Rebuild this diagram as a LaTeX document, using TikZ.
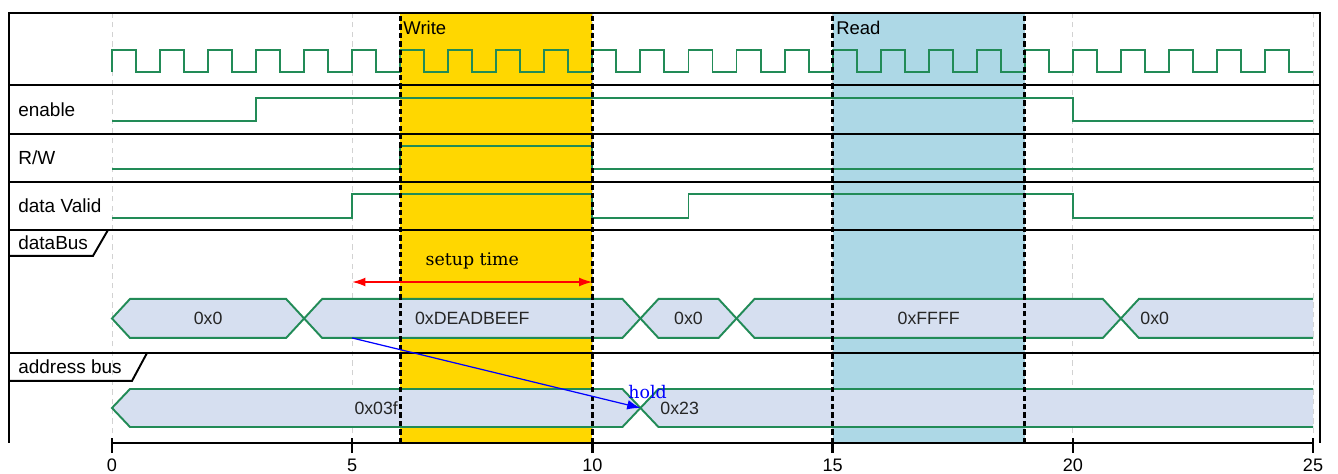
\documentclass[tikz,border=0pt]{standalone}
\usepackage{fontspec}
\setmainfont{Liberation Sans}
\newfontfamily\notefont{DejaVu Serif}
\usetikzlibrary{arrows.meta}
\definecolor{sigGreen}{RGB}{34,139,87}
\definecolor{busFill}{RGB}{214,223,240}
\definecolor{writeGold}{RGB}{255,215,0}
\definecolor{readBlue}{RGB}{173,216,230}

\begin{document}
\begin{tikzpicture}[scale=0.9608,
  sig/.style={draw=sigGreen, line width=1.1pt},
  bus/.style={sig, fill=busFill},
  rowline/.style={line width=1.1pt},
  gridline/.style={gray!35, line width=0.5pt, dash pattern=on 3pt off 2.5pt},
  bound/.style={line width=1.6pt, dash pattern=on 3pt off 1.8pt},
  signame/.style={anchor=west, inner sep=0pt, font=\fontsize{10.8}{12}\selectfont},
  busval/.style={inner sep=0pt, font=\fontsize{10.1}{12}\selectfont, text=black!85},
  note/.style={inner sep=0pt, font=\notefont\fontsize{9.9}{12}\selectfont}]
  \useasboundingbox (-2.331,-0.645) rectangle (25.52,9.221);
  % highlighted intervals
  \fill[writeGold] (6,0) rectangle (10,8.951); \fill[readBlue] (15,0) rectangle (19,8.951);
  \foreach \t in {0,5,...,25} \draw[gridline] (\t,0) -- (\t,8.951);
  % frame and row separators
  \draw[rowline] (-2.144,0) -- (-2.144,8.951) -- (25.146,8.951) -- (25.146,0);
  \foreach \y in {7.452,6.432,5.433,4.434,1.873} \draw[rowline] (-2.144,\y) -- (25.146,\y);
  \draw[rowline] (-2.144,3.893) -- (-0.396,3.893) -- (-0.083,4.434); \draw[rowline] (-2.144,1.291) -- (0.416,1.291) -- (0.729,1.873);
  % signal names
  \node[signame] (nEnable) at (-1.957,6.942) {enable}; \node[signame] (nRW) at (-1.957,5.943) {R/W};
  \node[signame] (nValid) at (-1.957,4.934) {data Valid}; \node[signame] (nData) at (-1.957,4.163) {dataBus};
  \node[signame] (nAddr) at (-1.957,1.582) {address bus};
  % clock
  \draw[sig] (0,7.723) \foreach \t in {0,...,24} { -- (\t,7.723) -- (\t,8.181) -- (\t+0.5,8.181) -- (\t+0.5,7.723) } -- (25,7.723);
  % binary signals
  \draw[sig] (0,6.703) -- (3,6.703) -- (3,7.181) -- (20,7.181) -- (20,6.703) -- (25,6.703);
  \draw[sig] (0,5.704) -- (6,5.704) -- (6,6.182) -- (10,6.182) -- (10,5.704) -- (25,5.704);
  \draw[sig] (0,4.684) -- (5,4.684) -- (5,5.183) -- (10,5.183) -- (10,4.684) -- (12,4.684) -- (12,5.183) -- (20,5.183) -- (20,4.684) -- (25,4.684);
  % data bus
  \foreach \a/\b/\v in {0/4/0x0, 4/11/0xDEADBEEF, 11/13/0x0, 13/21/0xFFFF} {
    \draw[bus] (\a,2.592) -- (\a+0.375,2.998) -- (\b-0.375,2.998) -- (\b,2.592) -- (\b-0.375,2.186) -- (\a+0.375,2.186) -- cycle;
    \node[busval] (d\a) at ({(\a+\b)/2},2.592) {\v};
  }
  \fill[busFill] (21,2.592) -- (21.375,2.998) -- (25,2.998) -- (25,2.186) -- (21.375,2.186) -- cycle;
  \draw[sig] (25,2.998) -- (21.375,2.998) -- (21,2.592) -- (21.375,2.186) -- (25,2.186);
  \node[busval, anchor=west] (d21) at (21.4,2.592) {0x0};
  % address bus
  \draw[bus] (0,0.729) -- (0.375,1.124) -- (10.625,1.124) -- (11,0.729) -- (10.625,0.333) -- (0.375,0.333) -- cycle;
  \fill[busFill] (11,0.729) -- (11.375,1.124) -- (25,1.124) -- (25,0.333) -- (11.375,0.333) -- cycle;
  \draw[sig] (25,1.124) -- (11.375,1.124) -- (11,0.729) -- (11.375,0.333) -- (25,0.333);
  \node[busval] (a0) at (5.5,0.729) {0x03f}; \node[busval, anchor=west] (a11) at (11.41,0.729) {0x23};
  % interval borders and labels
  \foreach \t in {6,10,15,19} \draw[bound] (\t,0) -- (\t,8.951);
  \node[signame, font=\fontsize{10.5}{12}\selectfont] (wr) at (6.06,8.639) {Write}; \node[signame, font=\fontsize{10.5}{12}\selectfont] (rd) at (15.07,8.639) {Read};
  % time axis
  \draw[line width=1.6pt] (0,0) -- (25,0);
  \foreach \t in {0,5,...,25} \draw[line width=1.3pt] (\t,0.1) -- (\t,-0.2) node[below, inner sep=3pt, font=\fontsize{10.3}{12}\selectfont] (t\t) {\t};
  % annotations
  \coordinate (s0) at (5,3.351); \coordinate (s1) at (10,3.351);
  \draw[red, line width=0.8pt, {Latex[length=7.5pt,width=5pt]}-{Latex[length=7.5pt,width=5pt]}] (s0) -- (s1);
  \node[note] (setup) at (7.5,3.789) {setup time};
  \coordinate (h0) at (5,2.186); \coordinate (h1) at (11,0.729);
  \draw[blue, line width=0.7pt, -{Latex[length=7.5pt,width=5.5pt]}] (h0) -- (h1);
  \node[note, text=blue] (hold) at (11.15,1.062) {hold};
\end{tikzpicture}
\end{document}
